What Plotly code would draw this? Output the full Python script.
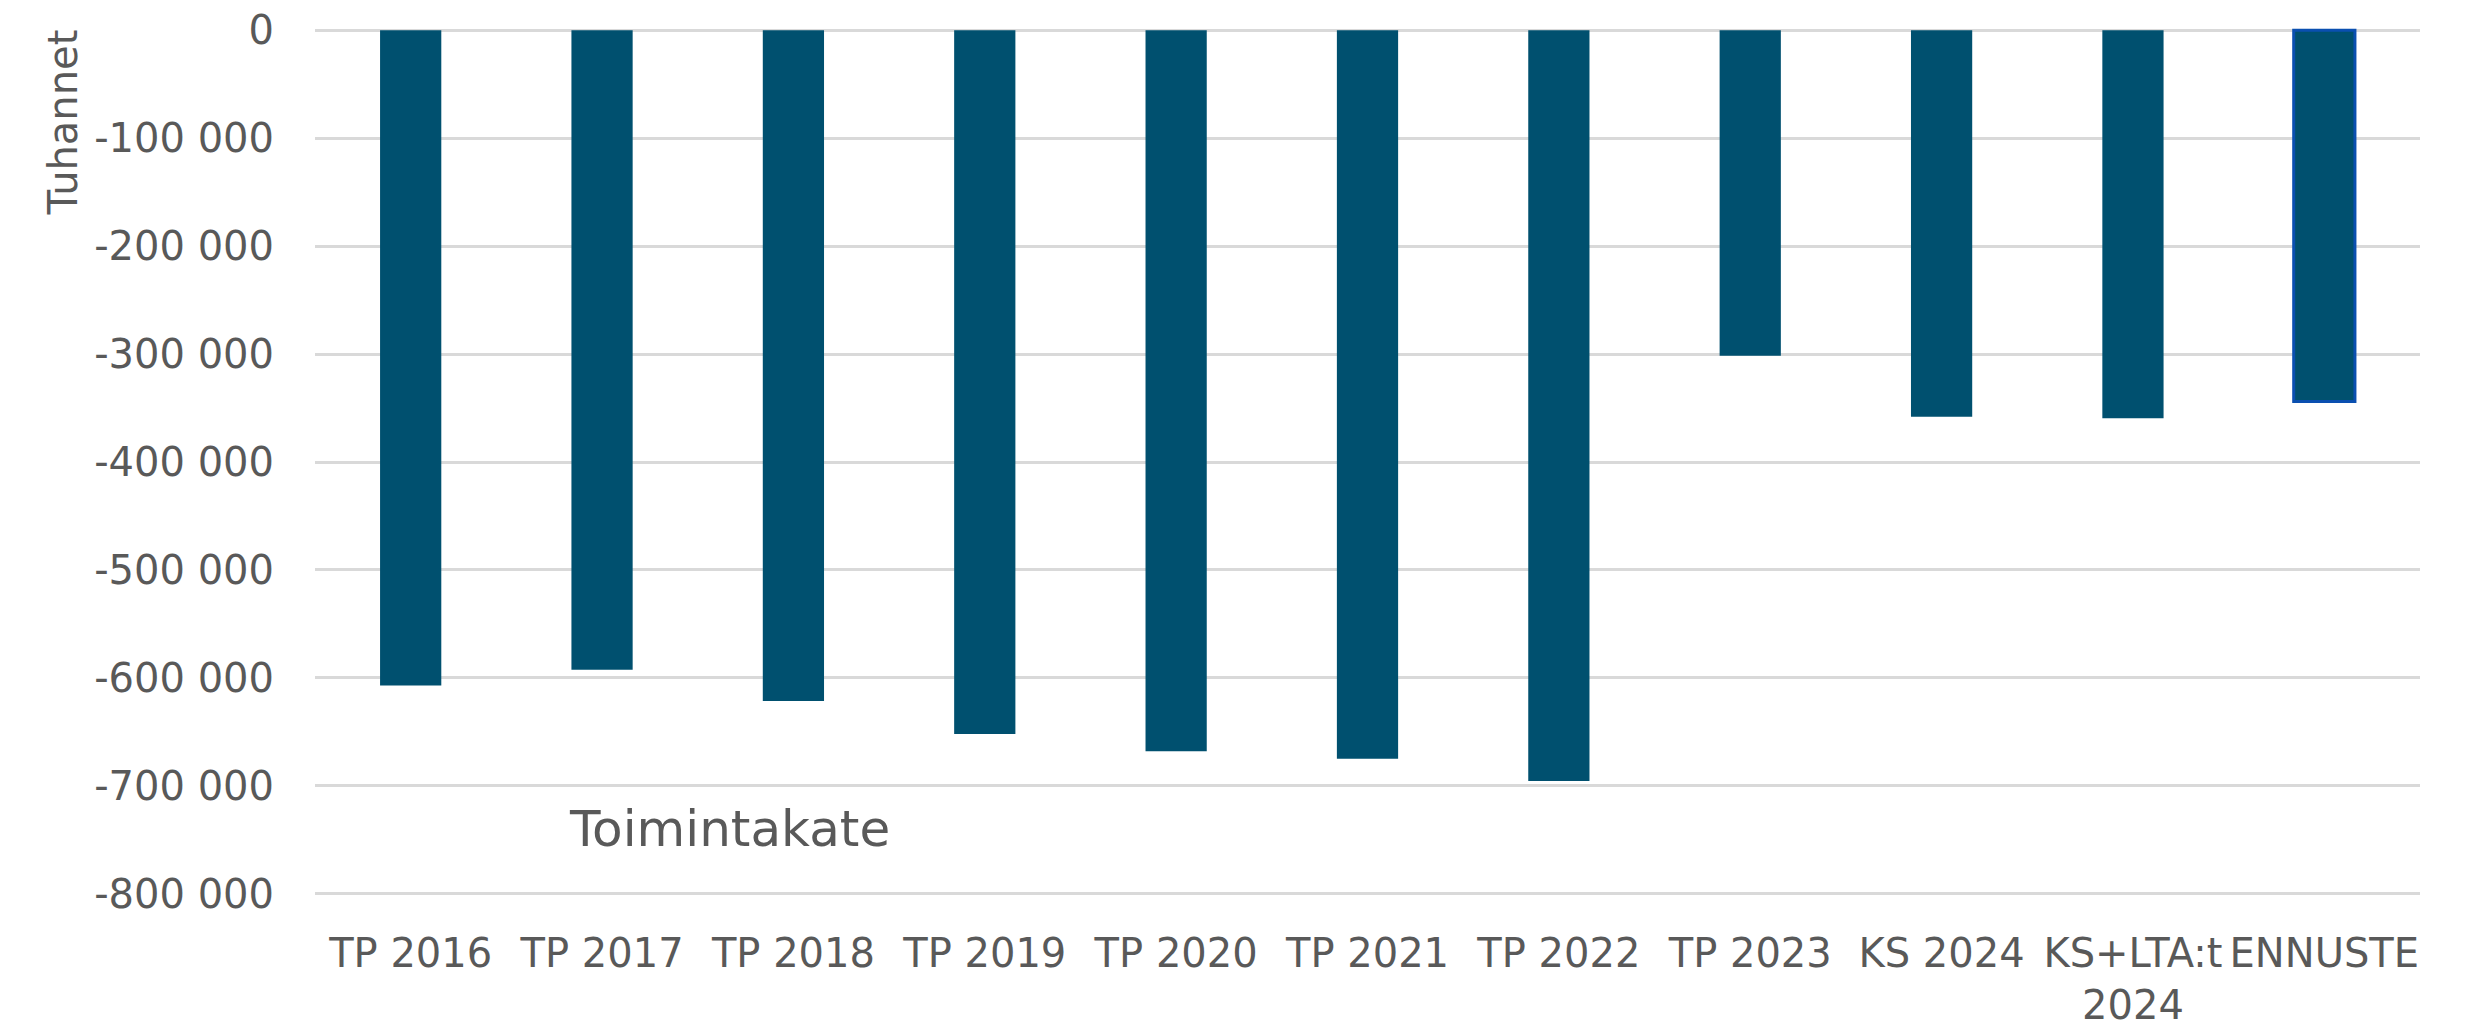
import plotly.graph_objects as go

# data (thousands of euros)
categories = ["TP 2016", "TP 2017", "TP 2018", "TP 2019", "TP 2020", "TP 2021",
              "TP 2022", "TP 2023", "KS 2024", "KS+LTA:t<br>2024", "ENNUSTE"]
toimintakate = [-607000, -592500, -621500, -652000, -668000, -675000,
                -695500, -301500, -358000, -359500, -344000]

y_tickvals = [0, -100000, -200000, -300000, -400000, -500000, -600000, -700000, -800000]
y_ticktext = ["0", "-100 000", "-200 000", "-300 000", "-400 000", "-500 000",
              "-600 000", "-700 000", "-800 000"]

BAR_COLOR = "#00506f"
TEXT_COLOR = "#595959"
GRID_COLOR = "#d9d9d9"
FONT = "DejaVu Sans"

# only the forecast bar has a visible blue outline
line_colors = ["rgba(0,0,0,0)"] * (len(categories) - 1) + ["#0a4fb0"]
line_widths = [0] * (len(categories) - 1) + [3]

fig = go.Figure()
fig.add_trace(go.Bar(
    x=categories,
    y=toimintakate,
    marker=dict(color=BAR_COLOR, line=dict(color=line_colors, width=line_widths)),
    name="Toimintakate",
))

# page body adds an 8px margin, so the figure is 8px smaller each way
fig.update_layout(
    width=2461,
    height=1019,
    margin=dict(l=307, r=49, t=19, b=130),
    paper_bgcolor="white",
    plot_bgcolor="white",
    bargap=0.68,
    showlegend=False,
    font=dict(family=FONT, color=TEXT_COLOR, size=40),
)

# small padding at both ends so the 0 and -800 000 gridlines are drawn
fig.update_yaxes(
    range=[-803000, 3000],
    tickvals=y_tickvals,
    ticktext=y_ticktext,
    showgrid=True,
    gridcolor=GRID_COLOR,
    gridwidth=2.5,
    zeroline=False,
    showline=False,
    automargin=False,
    ticks="outside",
    ticklen=32,
    tickcolor="rgba(0,0,0,0)",
    ticklabeloverflow="allow",
    tickfont=dict(family=FONT, size=40, color=TEXT_COLOR),
)

fig.update_xaxes(
    showgrid=False,
    showline=False,
    automargin=False,
    ticks="outside",
    ticklen=21,
    tickcolor="rgba(0,0,0,0)",
    tickfont=dict(family=FONT, size=40, color=TEXT_COLOR),
    tickangle=0,
)

fig.add_annotation(
    text="Tuhannet", xref="paper", yref="paper",
    x=-0.12, y=0.891, xanchor="center", yanchor="middle",
    textangle=-90, showarrow=False,
    font=dict(family=FONT, size=40, color=TEXT_COLOR),
)

fig.add_annotation(
    text="Toimintakate", xref="paper", yref="paper",
    x=0.197, y=0.078, xanchor="center", yanchor="middle",
    showarrow=False,
    font=dict(family=FONT, size=50, color=TEXT_COLOR),
)

fig.write_html("out.html")
